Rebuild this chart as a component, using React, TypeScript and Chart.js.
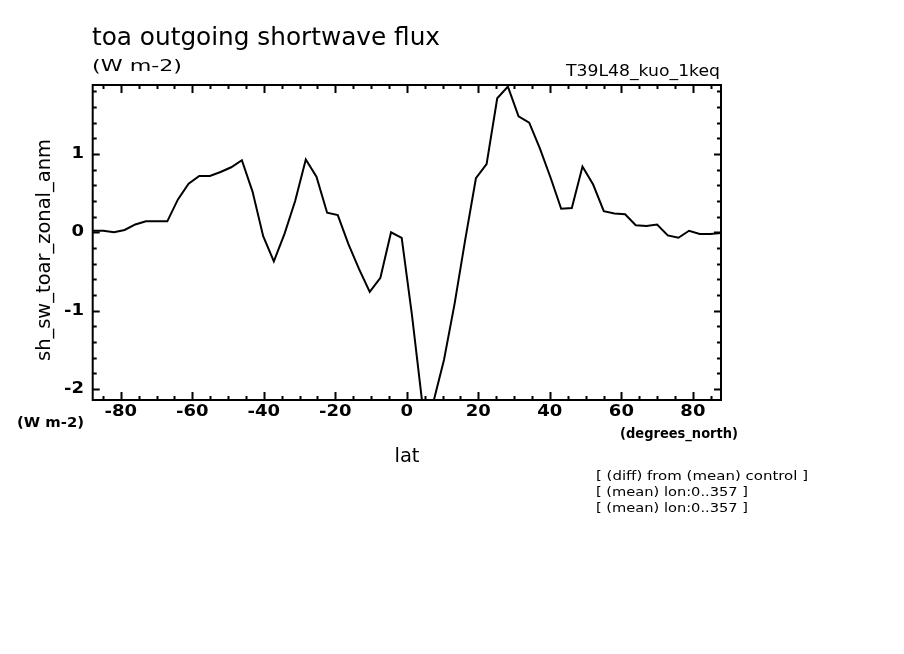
import React, { useEffect, useRef } from "react";
import { Chart, registerables } from "chart.js";

Chart.register(...registerables);

// ---- data ----
const latitudes = [
  -87.86, -84.89, -81.91, -78.93, -75.95, -72.97, -69.99, -67.0, -64.02, -61.04,
  -58.06, -55.08, -52.1, -49.12, -46.14, -43.16, -40.18, -37.2, -34.22, -31.24,
  -28.26, -25.28, -22.3, -19.32, -16.34, -13.36, -10.38, -7.4, -4.42, -1.44,
  1.44, 4.42, 7.4, 10.38, 13.36, 16.34, 19.32, 22.3, 25.28, 28.26,
  31.24, 34.22, 37.2, 40.18, 43.16, 46.14, 49.12, 52.1, 55.08, 58.06,
  61.04, 64.02, 67.0, 69.99, 72.97, 75.95, 78.93, 81.91, 84.89, 87.86,
];
const swAnomaly = [
  0.02, 0.02, 0.0, 0.03, 0.1, 0.14, 0.14, 0.14, 0.42, 0.62,
  0.72, 0.72, 0.77, 0.83, 0.92, 0.52, -0.05, -0.37, -0.02, 0.4,
  0.93, 0.71, 0.25, 0.22, -0.15, -0.47, -0.76, -0.58, 0.0, -0.07,
  -1.06, -2.22, -2.17, -1.63, -0.91, -0.09, 0.69, 0.87, 1.71, 1.86,
  1.48, 1.4, 1.07, 0.7, 0.3, 0.31, 0.84, 0.61, 0.27, 0.24,
  0.23, 0.09, 0.08, 0.1, -0.04, -0.07, 0.02, -0.02, -0.02, -0.01,
];
const xMajorTicks = [-80, -60, -40, -20, 0, 20, 40, 60, 80];
const xTickLabels = ["-80", "-60", "-40", "-20", "0", "20", "40", "60", "80"];
const yMajorTicks = [-2, -1, 0, 1];
const yTickLabels = ["-2", "-1", "0", "1"];
const X_MIN = -87.86;
const X_MAX = 87.86;
const Y_MIN = -2.14;
const Y_MAX = 1.88;
const X_MINOR_STEP = 5;
const Y_MINOR_STEP = 0.2;

const titleText = "toa outgoing shortwave flux";
const unitsText = "(W m-2)";
const runText = "T39L48_kuo_1keq";
const xAxisTitle = "lat";
const xUnits = "(degrees_north)";
const yAxisTitle = "sh_sw_toar_zonal_anm";
const notes = [
  "[ (diff) from (mean) control ]",
  "[ (mean) lon:0..357 ]",
  "[ (mean) lon:0..357 ]",
];

const FONT = '"DejaVu Sans", "Liberation Sans", sans-serif';

function drawText(
  ctx: CanvasRenderingContext2D,
  text: string,
  x: number,
  y: number,
  size: number,
  weight: string,
  targetW: number | null,
  align: "left" | "center" | "right",
  sxDefault = 1
) {
  ctx.font = `${weight} ${size}px ${FONT}`;
  const w = ctx.measureText(text).width;
  const sx = targetW ? targetW / w : sxDefault;
  const fw = w * sx;
  const left = align === "left" ? x : align === "center" ? x - fw / 2 : x - fw;
  ctx.save();
  ctx.translate(left, y);
  ctx.scale(sx, 1);
  ctx.textAlign = "left";
  ctx.textBaseline = "middle";
  ctx.fillStyle = "#000";
  ctx.fillText(text, 0, 0);
  ctx.restore();
}

const ferretFrame = {
  id: "ferretFrame",
  afterDatasetsDraw(chart: any) {
    const ctx: CanvasRenderingContext2D = chart.ctx;
    const xs = chart.scales.x;
    const ys = chart.scales.y;
    const { left, right, top, bottom } = chart.chartArea;
    ctx.save();
    ctx.strokeStyle = "#000";
    ctx.lineWidth = 2;
    ctx.strokeRect(left, top, right - left, bottom - top);

    ctx.lineWidth = 2;
    ctx.beginPath();
    // x ticks (bottom and top, inward)
    const xStart = Math.ceil(X_MIN / X_MINOR_STEP) * X_MINOR_STEP;
    for (let v = xStart; v <= X_MAX + 1e-9; v += X_MINOR_STEP) {
      const px = Math.round(xs.getPixelForValue(v)) + 0.5;
      const major = xMajorTicks.includes(v);
      const len = major ? 8 : 4;
      ctx.moveTo(px, bottom);
      ctx.lineTo(px, bottom - len);
      ctx.moveTo(px, top);
      ctx.lineTo(px, top + len);
    }
    // y ticks (left and right, inward)
    const yStart = Math.ceil(Y_MIN / Y_MINOR_STEP) * Y_MINOR_STEP;
    for (let k = 0; ; k++) {
      const v = Math.round((yStart + k * Y_MINOR_STEP) * 1000) / 1000;
      if (v > Y_MAX + 1e-9) break;
      const py = Math.round(ys.getPixelForValue(v)) + 0.5;
      const major = yMajorTicks.some((t) => Math.abs(t - v) < 1e-6);
      const len = major ? 7 : 4;
      ctx.moveTo(left, py);
      ctx.lineTo(left + len, py);
      ctx.moveTo(right, py);
      ctx.lineTo(right - len, py);
    }
    ctx.stroke();

    // tick labels
    xMajorTicks.forEach((v, i) => {
      drawText(ctx, xTickLabels[i], xs.getPixelForValue(v), 412, 15, "bold", null, "center", 1.2);
    });
    yMajorTicks.forEach((v, i) => {
      drawText(ctx, yTickLabels[i], 84, ys.getPixelForValue(v), 15, "bold", null, "right", 1.2);
    });

    // titles
    drawText(ctx, titleText, 92, 39, 24, "normal", 348, "left");
    drawText(ctx, unitsText, 92, 67, 16, "normal", 90, "left");
    drawText(ctx, runText, 720, 72, 15, "normal", 154, "right");
    drawText(ctx, unitsText, 17, 423, 14, "bold", 67, "left");
    drawText(ctx, xUnits, 620, 434, 14, "bold", 118, "left");
    drawText(ctx, xAxisTitle, 407, 457, 20, "normal", 25, "center");

    ctx.save();
    ctx.translate(45, 250);
    ctx.rotate(-Math.PI / 2);
    drawText(ctx, yAxisTitle, 0, 0, 19, "normal", 222, "center");
    ctx.restore();

    notes.forEach((n, i) => {
      drawText(ctx, n, 596, 477 + i * 16, 13, "normal", i === 0 ? 212 : 152, "left");
    });
    ctx.restore();
  },
};

export default function App() {
  const ref = useRef<HTMLCanvasElement | null>(null);
  useEffect(() => {
    if (!ref.current) return;
    const chart = new Chart(ref.current, {
      type: "line",
      data: {
        datasets: [
          {
            data: latitudes.map((x, i) => ({ x, y: swAnomaly[i] })),
            borderColor: "#000",
            borderWidth: 2,
            pointRadius: 0,
            tension: 0,
            fill: false,
          },
        ],
      },
      options: {
        responsive: false,
        animation: false,
        devicePixelRatio: 1,
        layout: { padding: { left: 92.7, top: 85, right: 183, bottom: 254 } },
        plugins: { legend: { display: false }, tooltip: { enabled: false } },
        scales: {
          x: { type: "linear", min: X_MIN, max: X_MAX, display: false },
          y: { type: "linear", min: Y_MIN, max: Y_MAX, display: false },
        },
      },
      plugins: [ferretFrame],
    } as any);
    return () => chart.destroy();
  }, []);
  return (
    <div style={{ position: "absolute", left: 0, top: 0, width: 904, height: 654, background: "#fff" }}>
      <canvas ref={ref} width={904} height={654} />
    </div>
  );
}
